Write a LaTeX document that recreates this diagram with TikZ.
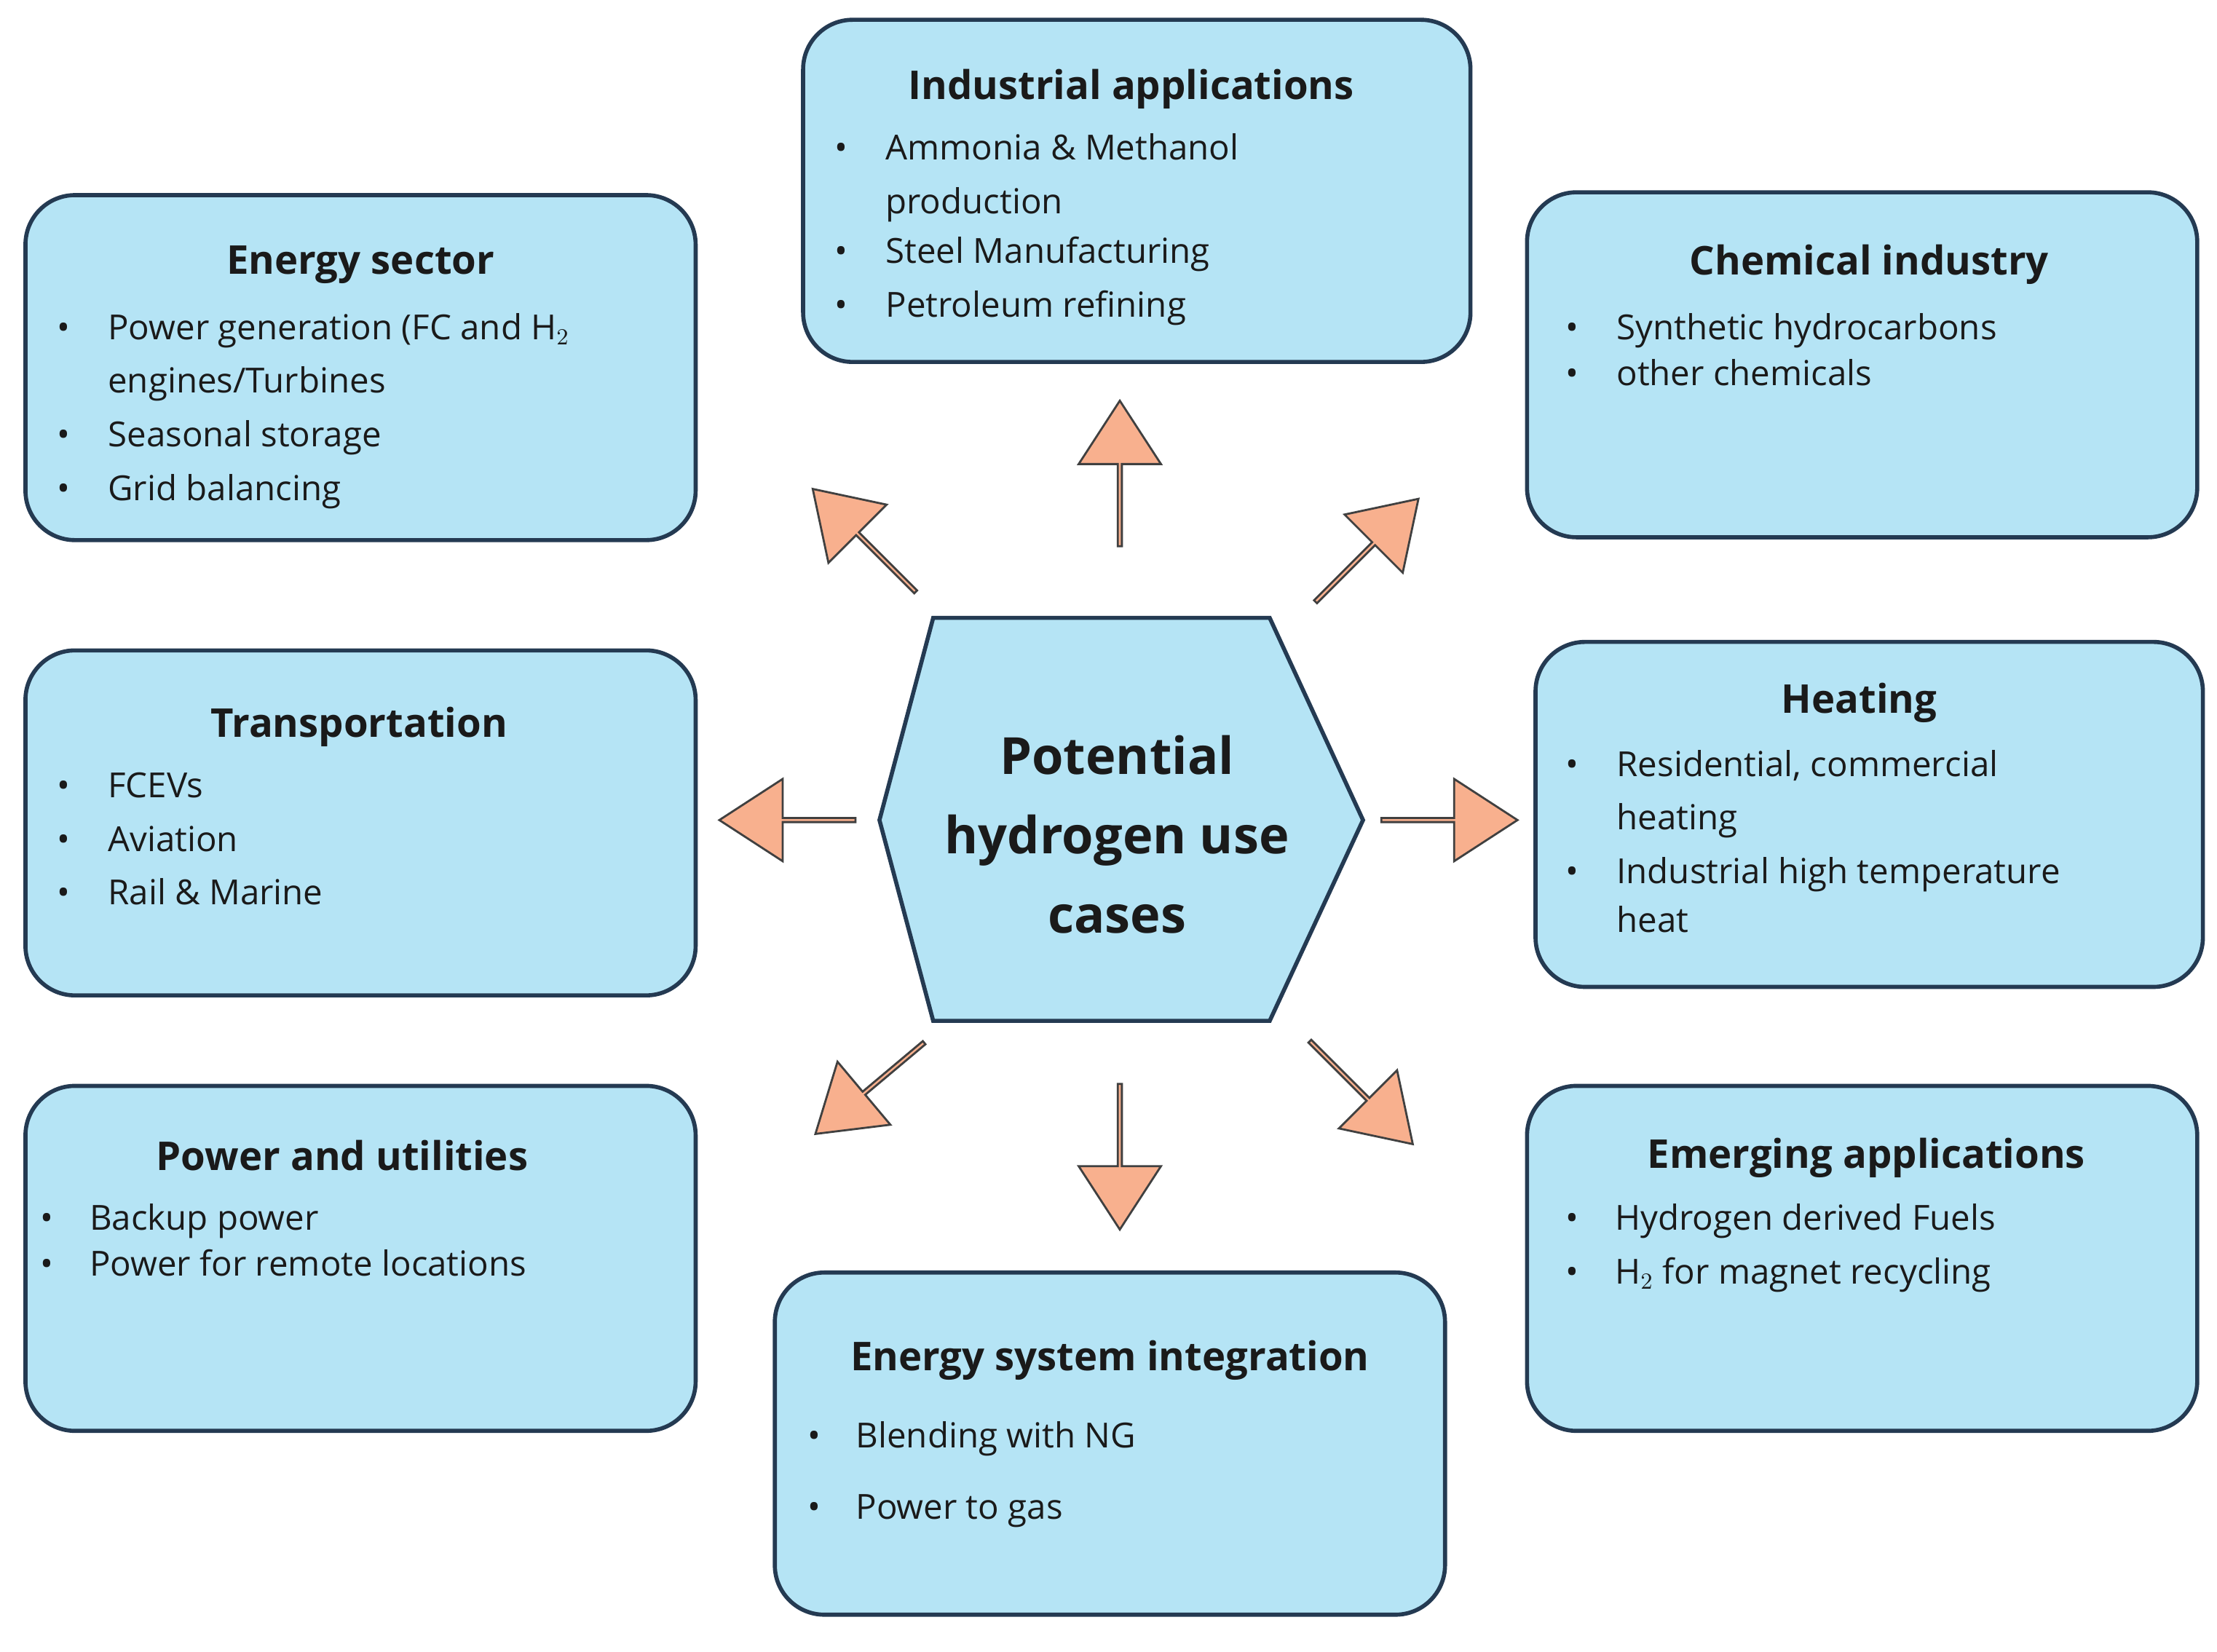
\documentclass[tikz,border=0pt]{standalone}
\usepackage{fontspec}
\setmainfont{Open Sans}
\usetikzlibrary{fit,shapes.arrows}
\definecolor{boxfill}{HTML}{B5E4F5}
\definecolor{boxline}{HTML}{243A52}
\definecolor{arrfill}{HTML}{F8B08E}
\definecolor{txt}{HTML}{1A1A1A}
\newcommand{\bodyfont}{\fontsize{13.5}{21}\selectfont}
\begin{document}
\begin{tikzpicture}[x=0.01942cm,y=-0.01942cm,
  box/.style={draw=boxline,line width=1.6pt,fill=boxfill,rounded corners=0.68cm,inner sep=0pt},
  ttl/.style={text=txt,font=\fontsize{15.5}{18}\selectfont\bfseries,inner sep=0pt},
  lst/.style={text=txt,font=\bodyfont,inner sep=0pt,anchor=base west,align=left},
  arr/.style={single arrow,draw=black!75,line width=0.8pt,fill=arrfill,minimum height=2.0cm,
    minimum width=1.13cm,single arrow head extend=0.27cm,single arrow tip angle=66,inner sep=0pt}]
\useasboundingbox (0,0) rectangle (1568,1168);
\fill[white] (0,0) rectangle (1568,1168);

% Boxes
\node[box,fit={(18,138)(492,382)}] (es) {};
\node[box,fit={(568,14)(1040,256)}] (ia) {};
\node[box,fit={(1080,136)(1554,380)}] (ci) {};
\node[box,fit={(18,460)(492,704)}] (tr) {};
\node[box,fit={(1086,454)(1558,698)}] (he) {};
\node[box,fit={(18,768)(492,1012)}] (pu) {};
\node[box,fit={(548,900)(1022,1142)}] (esi) {};
\node[box,fit={(1080,768)(1554,1012)}] (ea) {};

% Energy sector
\node[ttl] (est) at (255,187) {Energy sector};
\node[lst] (esl) at (40,240) {\begin{tabular}[t]{@{}p{0.70cm}@{}l@{}}
\textbullet & Power generation (FC and H$_2$\\
 & engines/Turbines\\
\textbullet & Seasonal storage\\
\textbullet & Grid balancing\end{tabular}};

% Industrial
\node[ttl] (iat) at (800,63) {Industrial applications};
\node[lst] (ial) at (590,113) {\begin{tabular}[t]{@{}p{0.70cm}@{}l@{}}
\textbullet & Ammonia \& Methanol\\
 & production\\[-1.5pt]
\textbullet & Steel Manufacturing\\
\textbullet & Petroleum refining\end{tabular}};

% Chemical
\node[ttl] (cit) at (1322,187) {Chemical industry};
\node[lst] (cil) at (1107,240) {\begin{tabular}[t]{@{}p{0.70cm}@{}l@{}}
\textbullet & Synthetic hydrocarbons\\[-3pt]
\textbullet & other chemicals\end{tabular}};

% Transportation
\node[ttl] (trt) at (254,514) {Transportation};
\node[lst] (trl) at (40,564) {\begin{tabular}[t]{@{}p{0.70cm}@{}l@{}}
\textbullet & FCEVs\\
\textbullet & Aviation\\
\textbullet & Rail \& Marine\end{tabular}};

% Heating
\node[ttl] (het) at (1315,497) {Heating};
\node[lst] (hel) at (1107,549) {\begin{tabular}[t]{@{}p{0.70cm}@{}l@{}}
\textbullet & Residential, commercial\\
 & heating\\
\textbullet & Industrial high temperature\\[-2pt]
 & heat\end{tabular}};

% Power and utilities
\node[ttl] (put) at (242,817) {Power and utilities};
\node[lst] (pul) at (28,870) {\begin{tabular}[t]{@{}p{0.68cm}@{}l@{}}
\textbullet & Backup power\\[-3pt]
\textbullet & Power for remote locations\end{tabular}};

% Energy system integration
\node[ttl] (esit) at (785,962) {Energy system integration};
\node[lst] (esil) at (571,1024) {\begin{tabular}[t]{@{}p{0.66cm}@{}l@{}}
\textbullet & Blending with NG\\[7pt]
\textbullet & Power to gas\end{tabular}};

% Emerging
\node[ttl] (eat) at (1320,819) {Emerging applications};
\node[lst] (eal) at (1107,870) {\begin{tabular}[t]{@{}p{0.68cm}@{}l@{}}
\textbullet & Hydrogen derived Fuels\\
\textbullet & H$_2$ for magnet recycling\end{tabular}};

% Hexagon
\draw[draw=boxline,line width=1.6pt,fill=boxfill] (660,437) -- (898,437) -- (964,580) -- (898,722) -- (660,722) -- (622,580) -- cycle;
\node[text=txt,font=\fontsize{20}{31}\selectfont\bfseries,align=center,inner sep=0pt] (hex) at (790,590) {Potential\\hydrogen use\\cases};

% Arrows
\node[arr,rotate=90] (aN) at (792,336) {};
\node[arr,rotate=180,minimum height=1.87cm] (aW) at (558,580) {};
\node[arr,rotate=0,minimum height=1.87cm] (aE) at (1024,580) {};
\node[arr,rotate=-90] (aS) at (792,817) {};
\node[arr,rotate=135] (aNW) at (612,383) {};
\node[arr,rotate=45] (aNE) at (966,390) {};
\node[arr,rotate=-140,minimum height=1.95cm] (aSW) at (616,769) {};
\node[arr,rotate=-45] (aSE) at (962,772) {};
\end{tikzpicture}
\end{document}
